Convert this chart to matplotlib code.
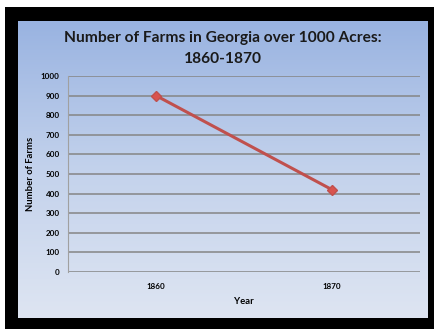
import matplotlib.pyplot as plt
import numpy as np
from matplotlib.colors import LinearSegmentedColormap

# -----------------------------
# Data
# -----------------------------
years = ["1860", "1870"]
farms = [900, 420]
y_ticks = [0, 100, 200, 300, 400, 500, 600, 700, 800, 900, 1000]

W, H = 435, 331
plt.rcParams["font.family"] = ["Lato", "DejaVu Sans"]

fig = plt.figure(figsize=(W / 100, H / 100), dpi=100)
fig.patch.set_facecolor("white")


def fx(px):
    return px / W


def fy(px):
    return 1 - px / H


# black frame
frame = fig.add_axes([fx(5), fy(329), fx(434) - fx(5), fy(7) - fy(329)])
frame.set_facecolor("black")
frame.set_xticks([])
frame.set_yticks([])
for s in frame.spines.values():
    s.set_visible(False)

# gradient panel
panel = fig.add_axes([fx(18), fy(318), fx(428) - fx(18), fy(21) - fy(318)])
cmap = LinearSegmentedColormap.from_list("bg", ["#99b3e1", "#c3d2ec", "#dee5f2"])
grad = np.linspace(0, 1, 256).reshape(-1, 1)
panel.imshow(grad, aspect="auto", cmap=cmap, extent=[0, 1, 0, 1], origin="upper")
panel.set_xticks([])
panel.set_yticks([])
for s in panel.spines.values():
    s.set_visible(False)

# plot area
ax = fig.add_axes([fx(68), fy(272), fx(420) - fx(68), fy(76) - fy(272)])
ax.patch.set_alpha(0)
x = np.arange(len(years))
ax.plot(x, farms, color="#c0504d", lw=2.2, marker="D", ms=5,
        markerfacecolor="#d9534f", markeredgecolor="#c0504d", zorder=3)
ax.set_xlim(-0.5, len(years) - 0.5)
ax.set_ylim(0, 1000)
ax.set_yticks(y_ticks)
ax.set_xticks(x)
ax.set_xticklabels(years)
ax.yaxis.grid(True, color="#858585", lw=1.1)
ax.set_axisbelow(True)
for name in ["top", "right", "bottom"]:
    ax.spines[name].set_visible(False)
ax.spines["left"].set_color("#a0a0a0")
ax.tick_params(axis="y", length=0, labelsize=5.8, pad=6)
ax.tick_params(axis="x", length=0, labelsize=5.8, pad=8)
for lab in ax.get_xticklabels() + ax.get_yticklabels():
    lab.set_fontweight("bold")

ax.set_xlabel("Year", fontsize=6.8, fontweight="bold", labelpad=5)
ax.set_ylabel("Number of Farms", fontsize=6.8, fontweight="bold", labelpad=4)

fig.text(fx(223), fy(38), "Number of Farms in Georgia over 1000 Acres:",
         ha="center", va="center", fontsize=11.2, fontweight="bold", color="#1a1a1a")
fig.text(fx(223), fy(59), "1860-1870",
         ha="center", va="center", fontsize=11.2, fontweight="bold", color="#1a1a1a")

fig.savefig("out.png", dpi=100)
